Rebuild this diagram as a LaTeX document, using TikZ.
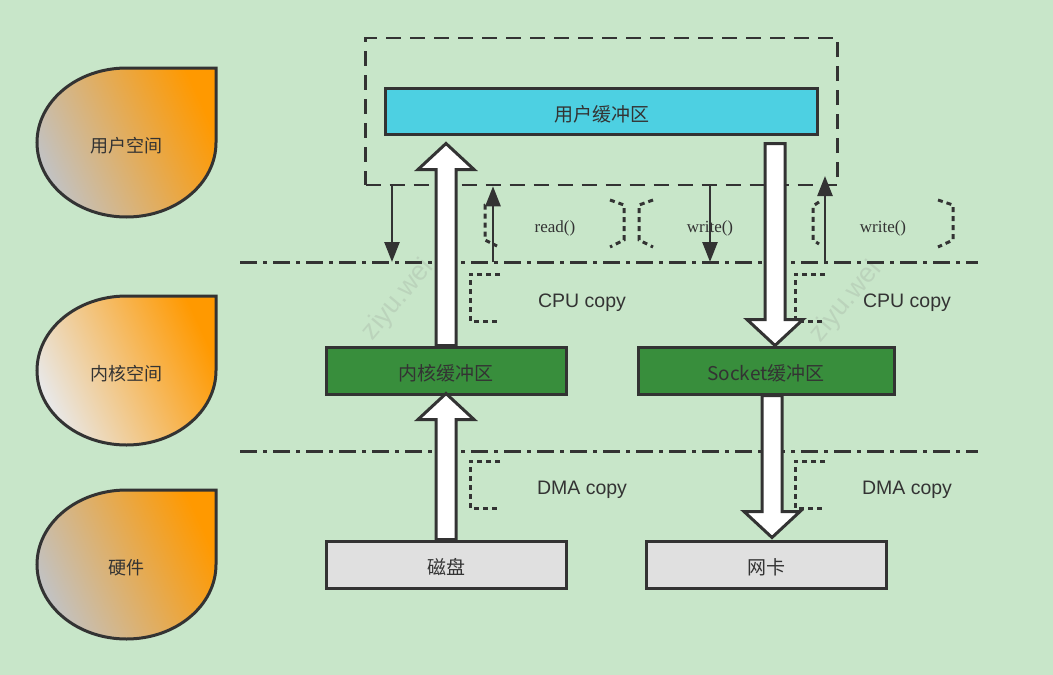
\documentclass[tikz,border=0pt]{standalone}
\usepackage{fontspec}
\setmainfont{Liberation Sans}
\newfontfamily\cjk{Noto Sans CJK SC}
\newfontfamily\serifed{Liberation Serif}
\usepackage{tikz}
\usetikzlibrary{arrows.meta,calc}

\definecolor{bggreen}{HTML}{C8E6C9}
\definecolor{linegray}{HTML}{333333}
\definecolor{ucyan}{HTML}{4DD0E2}
\definecolor{kgreen}{HTML}{388E3C}
\definecolor{hwgray}{HTML}{E0E0E0}
\definecolor{dorange}{HTML}{FF9900}
\definecolor{dgray}{HTML}{C2C2C2}
\definecolor{dwhite}{HTML}{E8E8E8}

% hollow block arrow between two points on one vertical
\newcommand{\blockarrow}[2]{%
  \draw[hollow] let \p1=#1, \p2=#2, \n1={sign(\y2-\y1)*26} in
    ({\x1-10pt},\y1) -- ({\x1-10pt},{\y2-\n1*1pt}) -- ({\x1-28pt},{\y2-\n1*1pt})
    -- (\x1,\y2) -- ({\x1+28pt},{\y2-\n1*1pt}) -- ({\x1+10pt},{\y2-\n1*1pt})
    -- ({\x1+10pt},\y1) -- cycle;}

\begin{document}
\begin{tikzpicture}[x=1pt,y=-1pt,line join=miter]
  \tikzstyle{buffer}=[draw=linegray,line width=3pt,minimum height=46pt,inner sep=0pt,text height=21pt,text depth=1pt,text=linegray,font=\cjk\fontsize{19}{19}\selectfont]
  \tikzstyle{hollow}=[draw=linegray,fill=white,line width=3pt]
  \tikzstyle{call}=[draw=linegray,line width=2.5pt,-{Triangle[length=20pt,width=15pt]}]
  \tikzstyle{layer}=[draw=linegray,line width=3pt,dash pattern=on 17pt off 6pt on 4pt off 6pt]
  \tikzstyle{bracket}=[draw=linegray,line width=3pt,dash pattern=on 5pt off 4pt]
  \tikzstyle{copylabel}=[text=linegray,font=\fontsize{19.5}{20}\selectfont,yshift=-3pt]
  \tikzstyle{calllabel}=[text=linegray,font=\serifed\fontsize{17}{17}\selectfont,yshift=-2pt]
  \tikzstyle{droplabel}=[text=linegray,font=\cjk\fontsize{18}{18}\selectfont,yshift=-3pt]
  \tikzstyle{watermark}=[text=gray,opacity=0.18,font=\fontsize{27}{27}\selectfont,rotate=50]

  \fill[bggreen] (0,0) rectangle (1053,675);

  % layer drops
  \foreach \name/\y/\lbl/\lc in {user/68/用户空间/dgray, kern/296/内核空间/dwhite, hw/490/硬件/dgray}{
    \path[draw=linegray,line width=3pt,left color=\lc,right color=dorange,shading angle=115]
      (126.5,\y) -- (216,\y) -- (216,{\y+74.5})
      arc[start angle=0,end angle=270,x radius=89.5,y radius=74.5] -- cycle;
    \node[droplabel] (\name) at (126.5,{\y+75}) {\lbl};
  }

  % watermarks
  \node[watermark] (wm1) at (398,300) {ziyu.wei};
  \node[watermark] (wm2) at (846,302) {ziyu.wei};

  % layer separators
  \coordinate (sep1l) at (240,262);
  \coordinate (sep1r) at (978,262);
  \coordinate (sep2l) at (240,451);
  \coordinate (sep2r) at (978,451);
  \draw[layer] (sep1l) -- (sep1r);
  \draw[layer] (sep2l) -- (sep2r);

  % user space box and buffers
  \node[draw=linegray,line width=2.5pt,dash pattern=on 15pt off 9pt,minimum width=472pt,minimum height=147pt] (ubox) at (601.5,111.5) {};
  \node[buffer,fill=ucyan,minimum width=432pt] (ubuf) at (601.5,111) {用户缓冲区};
  \node[buffer,fill=kgreen,minimum width=240pt,minimum height=47pt] (kbuf) at (446,370.5) {内核缓冲区};
  \node[buffer,fill=kgreen,minimum width=256pt,minimum height=47pt] (sbuf) at (766,370.5) {Socket缓冲区};
  \node[buffer,fill=hwgray,minimum width=240pt,minimum height=47pt] (disk) at (446,564.5) {磁盘};
  \node[buffer,fill=hwgray,minimum width=240pt,minimum height=47pt] (nic) at (766,564.5) {网卡};

  % data copies
  \blockarrow{(kbuf.north)}{($(ubuf.south)+(0,8)$)}
  \blockarrow{(disk.north)}{($(kbuf.south)+(0,-2)$)}
  \blockarrow{($(ubuf.south -| sbuf.north)+(9,8)$)}{($(sbuf.north)+(9,0)$)}
  \blockarrow{($(sbuf.south)+(6,0)$)}{($(nic.north)+(6,-2)$)}

  % system calls
  \coordinate (wtop) at (825,176);
  \draw[call] (ubox.south -| 392,0) -- (392,0 |- sep1l);
  \draw[call] (493,0 |- sep1l) -- (ubox.south -| 493,0);
  \draw[call] (ubox.south -| 710,0) -- (710,0 |- sep1l);
  \draw[call] (wtop |- sep1l) -- (wtop);

  % context brackets
  \draw[bracket] (493,200) -- (485,205) -- (485,240) -- (497,246);
  \draw[bracket] (610,200) -- (624,205) -- (624,240) -- (610,247);
  \draw[bracket] (653,200) -- (639,205) -- (639,240) -- (653,247);
  \draw[bracket] (819,202) -- (813,206) -- (813,240) -- (819,244);
  \draw[bracket] (938,200) -- (953,205) -- (953,240) -- (938,247);
  \foreach \x/\y in {470/274, 795/274, 470/461, 795/461}
    \draw[bracket] (\x+30,\y) -- (\x,\y) -- (\x,\y+47) -- (\x+30,\y+47);

  \node[calllabel] (read) at (555,226) {read()};
  \node[calllabel] (write1) at (710,226) {write()};
  \node[calllabel] (write2) at (883,226) {write()};
  \node[copylabel] (cpu1) at (582,300) {CPU copy};
  \node[copylabel] (cpu2) at (907,300) {CPU copy};
  \node[copylabel] (dma1) at (582,487) {DMA copy};
  \node[copylabel] (dma2) at (907,487) {DMA copy};
\end{tikzpicture}
\end{document}
